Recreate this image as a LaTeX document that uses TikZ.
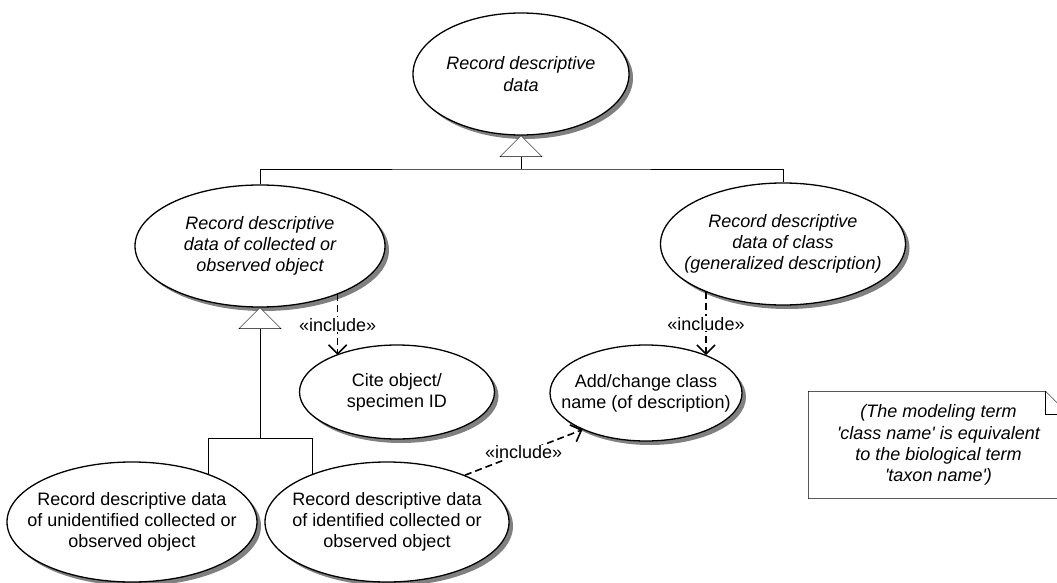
\documentclass[tikz,border=0pt]{standalone}
\usepackage{fontspec}
\setmainfont{Liberation Sans}
\usetikzlibrary{shapes.geometric,arrows.meta,shadows,backgrounds,positioning}
\newcommand{\ucfont}{\fontsize{18}{21.2}\selectfont}

\begin{document}
\begin{tikzpicture}[x=1pt,y=-1pt,line width=1.3pt,font=\ucfont,
  uc/.style args={#1x#2}{ellipse,draw,fill=white,inner sep=0pt,minimum width=#1pt,minimum height=#2pt,
    drop shadow={shadow xshift=4pt,shadow yshift=-4pt,fill=black!50,opacity=1}},
  uctext/.style={align=center,inner sep=0pt,font=\ucfont},
  uctextit/.style={uctext,font=\ucfont\itshape},
  gen/.style={draw,fill=white},
  incl/.style={line width=1.6pt,dash pattern=on 7pt off 4pt,-{Straight Barb[length=9pt,width=18pt]}},
  stereo/.style={fill=white,inner sep=1pt,font=\ucfont},
  notebox/.style={align=center,inner sep=0pt,minimum width=259pt,minimum height=106pt,font=\ucfont\itshape}]
  \useasboundingbox (0,0) rectangle (1057,583);
  \node[uc=216x122,label={[uctextit]center:Record descriptive\\data}] (top) at (521,74) {};
  \node[uc=250x122,label={[uctextit]center:Record descriptive\\data of collected or\\observed object}] (lcoll) at (260,246) {};
  \node[uc=245x122,label={[uctextit]center:Record descriptive\\data of class\\(generalized description)}] (class) at (783,244) {};
  \node[uc=195x94,label={[uctext]center:Cite object/\\specimen ID}] (cite) at (397,392) {};
  \node[uc=192x96,label={[uctext]center:Add/change class\\name (of description)}] (add) at (646,393) {};
  \node[uc=250x120,label={[uctext]center:Record descriptive data\\of unidentified collected or\\observed object}] (unid) at (132,522) {};
  \node[uc=244x120,label={[uctext]center:Record descriptive data\\of identified collected or\\observed object}] (ident) at (387,522) {};
  \node[notebox] (note) at (938.5,445) {(The modeling term\\\textquotesingle class name\textquotesingle{} is equivalent\\to the biological term\\\textquotesingle taxon name\textquotesingle)};
  \coordinate (bar1) at (521,169);
  \coordinate (bar2) at (260,438);
  \coordinate (bar2l) at (208,438);
  \coordinate (bar2r) at (312,438);
  \begin{pgfonlayer}{background}
    \draw (lcoll) |- (bar1) -| (class);
    \draw (bar2l |- unid) |- (bar2r) -- (bar2r |- ident);
  \end{pgfonlayer}
  \foreach \n in {top,lcoll} \draw[gen] (\n.south) -- ++(-21,21) -- ++(42,0) -- cycle;
  \draw (top.south) ++(0,21) -- (bar1);
  \draw (lcoll.south) ++(0,21) -- (bar2);
  \draw[incl] (lcoll.-32) -- node[stereo]{«include»} (lcoll.-32 |- cite.149);
  \draw[incl] (class.212) -- node[stereo]{«include»} (class.212 |- add.32);
  \draw[incl] (ident.31) -- node[stereo]{«include»} (add.210);
  \draw (note.south west) |- ([xshift=-23pt]note.north east) -- ([yshift=-23pt]note.north east) |- (note.south west);
  \draw ([xshift=-23pt]note.north east) |- ([yshift=-23pt]note.north east);
\end{tikzpicture}
\end{document}
